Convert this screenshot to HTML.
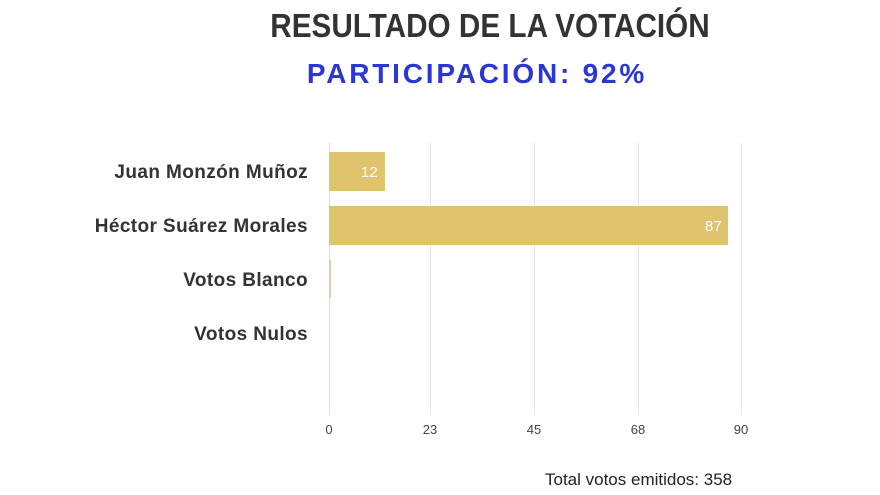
<!DOCTYPE html>
<html><head><meta charset="utf-8"><style>
body{margin:0;width:880px;height:495px;background:#fff;position:relative;overflow:hidden;font-family:"Liberation Sans",sans-serif}
.a{position:absolute;white-space:nowrap}
.t{left:0;width:980px;text-align:center;top:7px;font-size:33px;font-weight:bold;color:#333;transform:scaleX(0.9);transform-origin:490px 0}
.s{left:0;width:954px;text-align:center;top:58px;font-size:28px;font-weight:bold;color:#2b36d4;letter-spacing:2.8px}
.l{right:572px;font-size:19px;font-weight:bold;color:#333;letter-spacing:0.4px}
.g{top:143px;height:272px;width:1px;background:#e6e6e6}
.k{top:422px;font-size:13px;color:#444;width:40px;text-align:center}
.b{background:#dfc36d;left:329px}
.v{color:#fff;font-size:15px}
</style></head><body>
<div class="a t">RESULTADO DE LA VOTACIÓN</div>
<div class="a s">PARTICIPACIÓN: 92%</div>
<div class="a g" style="left:329px;background:#ddd"></div>
<div class="a g" style="left:430px"></div>
<div class="a g" style="left:534px"></div>
<div class="a g" style="left:638px"></div>
<div class="a g" style="left:741px"></div>
<div class="a b" style="top:152px;height:39px;width:56px"></div>
<div class="a v" style="left:361px;top:164px">12</div>
<div class="a b" style="top:206px;height:39px;width:399px"></div>
<div class="a v" style="left:705px;top:218px">87</div>
<div class="a" style="left:329px;top:260px;height:38px;width:2px;background:#e8c9a8"></div>
<div class="a l" style="top:162px">Juan Monzón Muñoz</div>
<div class="a l" style="top:216px">Héctor Suárez Morales</div>
<div class="a l" style="top:270px">Votos Blanco</div>
<div class="a l" style="top:324px">Votos Nulos</div>
<div class="a k" style="left:309px">0</div>
<div class="a k" style="left:410px">23</div>
<div class="a k" style="left:514px">45</div>
<div class="a k" style="left:618px">68</div>
<div class="a k" style="left:721px">90</div>
<div class="a" style="left:545px;top:470px;font-size:17px;color:#222">Total votos emitidos: 358</div>
</body></html>
